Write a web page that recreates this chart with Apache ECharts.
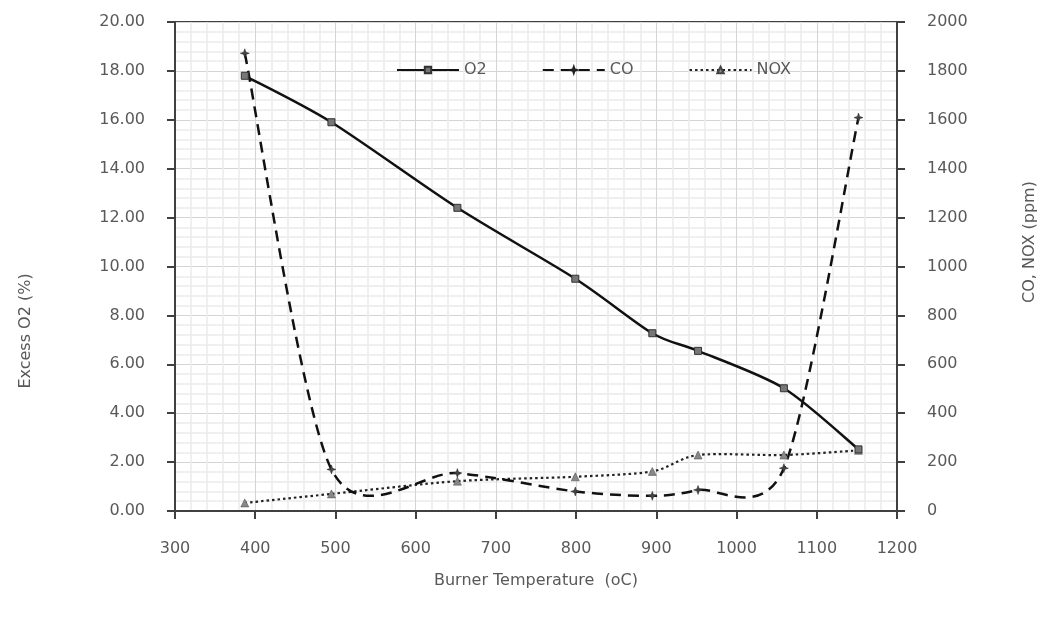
<!DOCTYPE html>
<html>
<head>
<meta charset="utf-8">
<script src="https://cdn.jsdelivr.net/npm/echarts@6/dist/echarts.min.js"></script>
<style>
  html, body { margin: 0; padding: 0; background: #fff; }
  #chart { width: 1046px; height: 623px; }
</style>
</head>
<body>
<div id="chart"></div>
<script>
// Burner temperature (°C) at each measurement
const temperature = [387, 495, 652, 799, 895, 952, 1059, 1152];
// Excess O2 (%) — left axis
const o2 = [17.8, 15.9, 12.4, 9.5, 7.27, 6.55, 5.02, 2.52];
// CO (ppm) — right axis
const co = [1872, 170, 155, 80, 62, 86, 175, 1609];
// NOX (ppm) — right axis
const nox = [33, 70, 122, 140, 162, 229, 229, 248];

const textGray = '#595959';
const font = 'DejaVu Sans';
const fontSize = 16;

const pairs = (ys) => temperature.map((t, i) => [t, ys[i]]);

const starPath = 'path://M0,-10 L2.5,-2.5 L10,0 L2.5,2.5 L0,10 L-2.5,2.5 L-10,0 L-2.5,-2.5 Z';

// Cardinal-spline path through pixel points (spreadsheet-style smoothed line)
function splinePath(pts, k) {
  let d = 'M' + pts[0][0] + ',' + pts[0][1];
  for (let i = 0; i < pts.length - 1; i++) {
    const p0 = pts[i - 1] || pts[i];
    const p1 = pts[i];
    const p2 = pts[i + 1];
    const p3 = pts[i + 2] || pts[i + 1];
    const c1x = p1[0] + (p2[0] - p0[0]) * k;
    const c1y = p1[1] + (p2[1] - p0[1]) * k;
    const c2x = p2[0] - (p3[0] - p1[0]) * k;
    const c2y = p2[1] - (p3[1] - p1[1]) * k;
    d += ' C' + c1x + ',' + c1y + ' ' + c2x + ',' + c2y + ' ' + p2[0] + ',' + p2[1];
  }
  return d;
}

// Custom series drawing one smoothed curve through a value list
function curveSeries(ys, axisIndex, lineStyle, z) {
  return {
    type: 'custom', yAxisIndex: axisIndex, silent: true, z: z,
    data: [[temperature[0], ys[0]]],
    renderItem: (params, api) => {
      const pts = temperature.map((t, i) => api.coord([t, ys[i]]));
      return {
        type: 'path',
        shape: { pathData: splinePath(pts, 0.14) },
        style: Object.assign({ fill: 'none' }, lineStyle)
      };
    }
  };
}

const axisLineStyle = { color: '#404040', width: 2 };

const chart = echarts.init(document.getElementById('chart'), null, { renderer: 'canvas' });

chart.setOption({
  animation: false,
  backgroundColor: '#ffffff',
  textStyle: { fontFamily: font, color: textGray },
  grid: {
    left: 175, right: 149, top: 22, bottom: 112,
    show: true, borderColor: '#404040', borderWidth: 2
  },
  legend: {
    top: 57, left: 391,
    itemWidth: 62, itemHeight: 8, itemGap: 55,
    textStyle: { fontFamily: font, fontSize: fontSize, color: textGray },
    data: [
      { name: 'O2', lineStyle: { opacity: 1 } },
      { name: 'CO', lineStyle: { opacity: 1 } },
      { name: 'NOX', lineStyle: { opacity: 1 } }
    ]
  },
  xAxis: {
    type: 'value', min: 300, max: 1200, interval: 100,
    name: 'Burner Temperature  (oC)', nameLocation: 'middle', nameGap: 62,
    nameTextStyle: { fontFamily: font, fontSize: fontSize, color: textGray },
    axisLine: { show: true, lineStyle: axisLineStyle },
    axisTick: { show: true, length: 8, lineStyle: axisLineStyle },
    axisLabel: { margin: 30, fontSize: fontSize, color: textGray, fontFamily: font,
      formatter: (v) => String(v) },
    splitLine: { show: true, lineStyle: { color: '#d4d4d4', width: 1 } },
    minorTick: { show: false, splitNumber: 5 },
    minorSplitLine: { show: true, lineStyle: { color: '#ececec', width: 1.5 } }
  },
  yAxis: [
    {
      type: 'value', min: 0, max: 20, interval: 2, position: 'left',
      axisLine: { show: true, lineStyle: axisLineStyle },
      axisTick: { show: true, length: 8, lineStyle: axisLineStyle },
      axisLabel: { margin: 30, fontSize: fontSize, color: textGray, fontFamily: font,
        formatter: (v) => v.toFixed(2) },
      splitLine: { show: true, lineStyle: { color: '#d4d4d4', width: 1 } },
      minorTick: { show: false, splitNumber: 5 },
      minorSplitLine: { show: true, lineStyle: { color: '#ececec', width: 1.5 } }
    },
    {
      type: 'value', min: 0, max: 2000, interval: 200, position: 'right',
      axisLine: { show: true, lineStyle: axisLineStyle },
      axisTick: { show: true, length: 8, lineStyle: axisLineStyle },
      axisLabel: { margin: 30, fontSize: fontSize, color: textGray, fontFamily: font,
        formatter: (v) => String(v) },
      splitLine: { show: false }
    }
  ],
  graphic: [
    {
      type: 'text', x: 26, y: 331, rotation: Math.PI / 2,
      style: { text: 'Excess O2 (%)', fontFamily: font, fontSize: fontSize, fill: textGray,
        align: 'center', verticalAlign: 'middle' }
    },
    {
      type: 'text', x: 1030, y: 242, rotation: Math.PI / 2,
      style: { text: 'CO, NOX (ppm)', fontFamily: font, fontSize: fontSize, fill: textGray,
        align: 'center', verticalAlign: 'middle' }
    }
  ],
  series: [
    // smoothed curves
    curveSeries(o2, 0, { stroke: '#111', lineWidth: 2.5 }, 4),
    curveSeries(co, 1, { stroke: '#111', lineWidth: 2.5, lineDash: [11, 7] }, 3),
    curveSeries(nox, 1, { stroke: '#222', lineWidth: 2.2, lineDash: [2.5, 3] }, 2),
    // point markers (line style used by the legend)
    {
      name: 'O2', type: 'line', yAxisIndex: 0,
      data: pairs(o2),
      symbol: 'rect', symbolSize: 7,
      lineStyle: { color: '#111', width: 2.5, type: 'solid', opacity: 0 },
      itemStyle: { color: '#777', borderColor: '#333', borderWidth: 1 },
      z: 6
    },
    {
      name: 'CO', type: 'line', yAxisIndex: 1,
      data: pairs(co),
      symbol: starPath, symbolSize: 9,
      lineStyle: { color: '#111', width: 2.5, type: [11, 7], opacity: 0 },
      itemStyle: { color: '#444', borderColor: '#222', borderWidth: 0.5 },
      z: 6
    },
    {
      name: 'NOX', type: 'line', yAxisIndex: 1,
      data: pairs(nox),
      symbol: 'triangle', symbolSize: 8,
      lineStyle: { color: '#222', width: 2.2, type: [2.5, 3], opacity: 0 },
      itemStyle: { color: '#888', borderColor: '#444', borderWidth: 0.5 },
      z: 5
    }
  ]
});
</script>
</body>
</html>
